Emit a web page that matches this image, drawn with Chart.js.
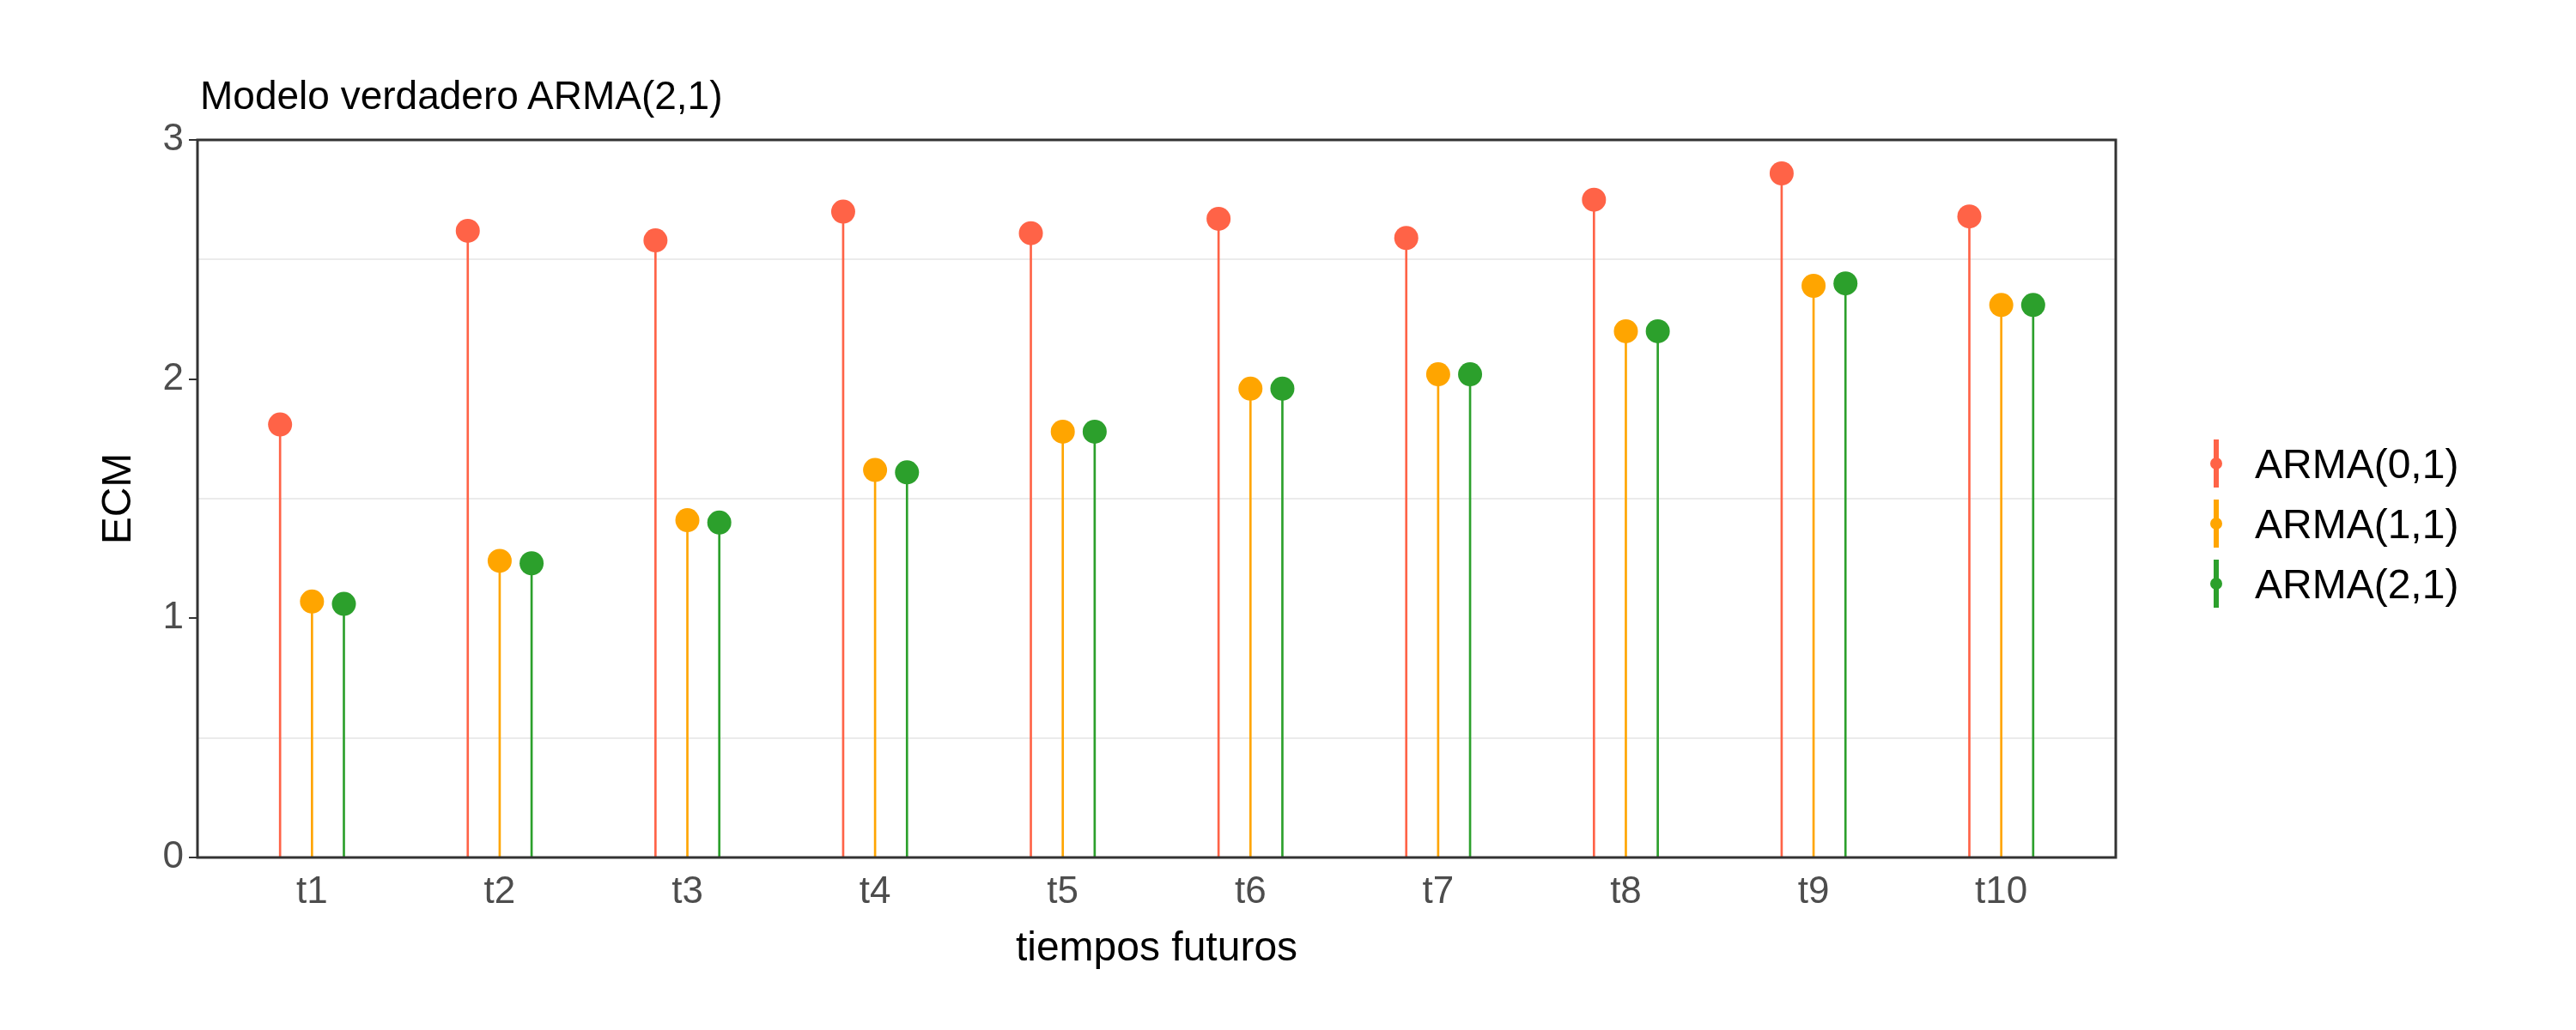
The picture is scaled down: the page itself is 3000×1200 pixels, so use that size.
<!DOCTYPE html>
<html>
<head>
<meta charset="utf-8">
<script src="https://cdn.jsdelivr.net/npm/chart.js@4"></script>
<style>
  body { margin: 0; background: #fff; }
  .wrap { position: relative; width: 3000px; height: 1200px; font-family: Arial, "Liberation Sans", sans-serif; }
  .title { position: absolute; left: 233px; top: 84px; font-size: 46px; color: #000; }
  .legend { position: absolute; left: 2560px; top: 505px; font-size: 48px; }
  .legend div { display: flex; align-items: center; height: 70px; }
  .glyph { position: relative; width: 40px; height: 64px; margin-right: 26px; }
  .glyph .stem { position: absolute; left: 18px; top: 4px; width: 6px; height: 56px; }
  .glyph .dot { position: absolute; left: 14px; top: 25px; width: 14px; height: 14px; border-radius: 50%; }
</style>
</head>
<body>
<div class="wrap">
  <canvas id="c" width="3000" height="1200"></canvas>
  <div class="title">Modelo verdadero ARMA(2,1)</div>
  <div class="legend" id="legend"></div>
</div>
<script>
const categories = ['t1', 't2', 't3', 't4', 't5', 't6', 't7', 't8', 't9', 't10']
const series_names = ['ARMA(0,1)', 'ARMA(1,1)', 'ARMA(2,1)']
const arma01 = [1.81, 2.62, 2.58, 2.70, 2.61, 2.67, 2.59, 2.75, 2.86, 2.68]
const arma11 = [1.07, 1.24, 1.41, 1.62, 1.78, 1.96, 2.02, 2.20, 2.39, 2.31]
const arma21 = [1.06, 1.23, 1.40, 1.61, 1.78, 1.96, 2.02, 2.20, 2.40, 2.31]
const y_ticks = [0, 1, 2, 3]

const colors = ['#FF6347', '#FFA500', '#2CA02C']
const dodge = [-0.17, 0, 0.17]
const values = [arma01, arma11, arma21]

const datasets = []
values.forEach((vals, s) => {
    const pts = vals.map((v, i) => ({ x: i + 1 + dodge[s], y: v }))
    datasets.push({
        type: 'bar', data: pts, backgroundColor: colors[s], barThickness: 2,
        grouped: false, order: 2
    })
    datasets.push({
        type: 'scatter', data: pts, backgroundColor: colors[s], borderWidth: 0,
        pointRadius: 14, order: 1
    })
})

const frame = {
    id: 'frame',
    afterDraw(chart) {
        const a = chart.chartArea, ctx = chart.ctx
        ctx.save()
        ctx.strokeStyle = '#333'
        ctx.lineWidth = 3
        ctx.strokeRect(a.left, a.top, a.right - a.left, a.bottom - a.top)
        ctx.restore()
    }
}

new Chart(document.getElementById('c'), {
    data: { datasets },
    plugins: [frame],
    options: {
        responsive: false,
        animation: false,
        devicePixelRatio: 1,
        layout: { padding: { top: 163, right: 536, left: 110, bottom: 65 } },
        plugins: { legend: { display: false }, tooltip: { enabled: false } },
        scales: {
            x: {
                type: 'linear', min: 0.39, max: 10.61, offset: false, bounds: 'ticks',
                afterFit: (s) => { s.height = 136 },
                afterBuildTicks: (s) => { s.ticks = categories.map((c, i) => ({ value: i + 1 })) },
                ticks: { callback: (v) => categories[v - 1], color: '#4d4d4d', font: { size: 44, family: 'Arial' }, padding: 4 },
                grid: { display: false, tickLength: 10 },
                border: { display: false },
                title: { display: true, text: 'tiempos futuros', color: '#000', font: { size: 48, family: 'Arial' }, padding: 0 }
            },
            y: {
                min: 0, max: 3,
                afterFit: (s) => { s.width = 120 },
                afterBuildTicks: (s) => { s.ticks = [0, 0.5, 1, 1.5, 2, 2.5, 3].map(v => ({ value: v })) },
                ticks: {
                    callback: (v) => y_ticks.includes(v) ? String(v) : '',
                    color: '#4d4d4d', font: { size: 44, family: 'Arial' }, padding: 6
                },
                grid: {
                    color: (c) => Number.isInteger(c.tick.value) ? 'rgba(0,0,0,0)' : '#ebebeb',
                    tickColor: (c) => Number.isInteger(c.tick.value) ? '#333' : 'rgba(0,0,0,0)',
                    lineWidth: 2, tickLength: 10
                },
                border: { display: false },
                title: { display: true, text: 'ECM', color: '#000', font: { size: 48, family: 'Arial' }, padding: 0 }
            }
        }
    }
})

const legend = document.getElementById('legend')
series_names.forEach((n, s) => {
    const row = document.createElement('div')
    row.innerHTML = `<span class="glyph"><span class="stem" style="background:${colors[s]}"></span><span class="dot" style="background:${colors[s]}"></span></span>${n}`
    legend.appendChild(row)
})
</script>
</body>
</html>
